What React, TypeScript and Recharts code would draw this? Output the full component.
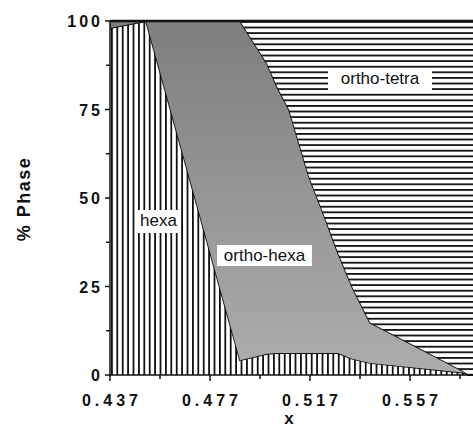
import { AreaChart, Area, XAxis, YAxis } from 'recharts';

// composition x and the phase fractions (stacked, sum to 100)
const xValues = [0.437, 0.4514, 0.489, 0.4998, 0.5038, 0.5086, 0.5166, 0.5218, 0.5282, 0.5338, 0.541, 0.5778, 0.5806, 0.5822];
const hexa = [98, 100, 4.2, 6, 6.2, 6.2, 6.2, 6.2, 6.2, 4.6, 3.4, 0.7, 0, 0];
const orthoHexa = [2, 0, 95.8, 82, 75.3, 68.8, 49.8, 40.4, 28.3, 20.4, 11.4, 0.6, 0, 0];
const orthoTetra = [0, 0, 0, 12, 18.5, 25, 44, 53.4, 65.5, 75, 85.2, 98.7, 100, 100];

const xMajor = [0.437, 0.477, 0.517, 0.557];
const xMinor = [0.457, 0.497, 0.537, 0.577];
const yMajor = [0, 25, 50, 75, 100];
const yMinor = [12.5, 37.5, 62.5, 87.5];

const data = xValues.map((x, i) => ({
  x,
  hexa: hexa[i],
  orthoHexa: orthoHexa[i],
  orthoTetra: orthoTetra[i],
}));

const xTicks = [...xMajor, ...xMinor].sort((a, b) => a - b);
const yTicks = [...yMajor, ...yMinor].sort((a, b) => a - b);

const font = "'Liberation Sans', Arial, Helvetica, sans-serif";

function XTick(props: any) {
  const { x, y, payload } = props;
  const major = xMajor.includes(payload.value);
  return (
    <g>
      <line x1={x} x2={x} y1={y} y2={y + (major ? 6 : 4)} stroke="#111" strokeWidth={1.5} />
      {major && (
        <text x={x + 2} y={y + 31} textAnchor="middle" fontFamily={font} fontWeight="bold" fontSize={16} letterSpacing={4} fill="#111">
          {payload.value.toFixed(3)}
        </text>
      )}
    </g>
  );
}

function YTick(props: any) {
  const { x, y, payload } = props;
  const major = yMajor.includes(payload.value);
  return (
    <g>
      <line x1={x - (major ? 5 : 4)} x2={x} y1={y} y2={y} stroke="#111" strokeWidth={1.5} />
      {major && (
        <text x={x - 7} y={y + 6} textAnchor="end" fontFamily={font} fontWeight="bold" fontSize={16} letterSpacing={3} fill="#111">
          {payload.value}
        </text>
      )}
    </g>
  );
}

const labelBox = {
  position: 'absolute' as const,
  background: '#fff',
  fontFamily: font,
  fontSize: 17,
  color: '#111',
  lineHeight: '22px',
  textAlign: 'center' as const,
  whiteSpace: 'nowrap' as const,
};

export default function App() {
  return (
    <div style={{ position: 'absolute', left: 0, top: 0, width: 473, height: 430, background: '#fff', overflow: 'hidden' }}>
      <AreaChart width={473} height={430} data={data} margin={{ top: 21, right: 0, bottom: 0, left: 0 }}>
        <defs>
          <pattern id="vhatch" patternUnits="userSpaceOnUse" x={111} y={0} width={5.4} height={10}>
            <rect width={5.4} height={10} fill="#fff" />
            <rect x={0} y={0} width={1.8} height={10} fill="#111" />
          </pattern>
          <pattern id="hhatch" patternUnits="userSpaceOnUse" x={0} y={21} width={10} height={5.6}>
            <rect width={10} height={5.6} fill="#fff" />
            <rect x={0} y={0} width={10} height={1.8} fill="#111" />
          </pattern>
          <linearGradient id="grey" x1="0" y1="0" x2="0" y2="1">
            <stop offset="0%" stopColor="#7e7e7e" />
            <stop offset="100%" stopColor="#adadad" />
          </linearGradient>
        </defs>
        <XAxis
          dataKey="x"
          type="number"
          domain={[0.437, 0.5822]}
          allowDataOverflow
          ticks={xTicks}
          interval={0}
          tick={<XTick />}
          tickLine={false}
          tickSize={0}
          tickMargin={0}
          height={55}
          axisLine={{ stroke: '#111', strokeWidth: 1.5 }}
        />
        <YAxis
          type="number"
          domain={[0, 100]}
          ticks={yTicks}
          interval={0}
          tick={<YTick />}
          tickLine={false}
          tickSize={0}
          tickMargin={0}
          width={110}
          axisLine={{ stroke: '#111', strokeWidth: 1.5 }}
        />
        <Area type="linear" dataKey="hexa" stackId="1" fill="url(#vhatch)" fillOpacity={1} stroke="#111" strokeWidth={1.8} isAnimationActive={false} />
        <Area type="linear" dataKey="orthoHexa" stackId="1" fill="url(#grey)" fillOpacity={1} stroke="#111" strokeWidth={1.8} isAnimationActive={false} />
        <Area type="linear" dataKey="orthoTetra" stackId="1" fill="url(#hhatch)" fillOpacity={1} stroke="#111" strokeWidth={2.4} isAnimationActive={false} />
      </AreaChart>

      <div style={{ ...labelBox, left: 328, top: 68, width: 104, height: 22 }}>ortho-tetra</div>
      <div style={{ ...labelBox, left: 137, top: 210, width: 43, height: 23 }}>hexa</div>
      <div style={{ ...labelBox, left: 217, top: 245, width: 95, height: 21 }}>ortho-hexa</div>

      <div
        style={{
          position: 'absolute',
          left: 24,
          top: 199,
          transform: 'translate(-50%, -50%) rotate(-90deg)',
          fontFamily: font,
          fontWeight: 'bold',
          fontSize: 18,
          letterSpacing: 1.5,
          color: '#111',
          whiteSpace: 'nowrap',
        }}
      >
        % Phase
      </div>
      <div
        style={{
          position: 'absolute',
          left: 289,
          top: 419,
          transform: 'translate(-50%, -50%)',
          fontFamily: font,
          fontWeight: 'bold',
          fontSize: 17,
          color: '#111',
        }}
      >
        x
      </div>
    </div>
  );
}
